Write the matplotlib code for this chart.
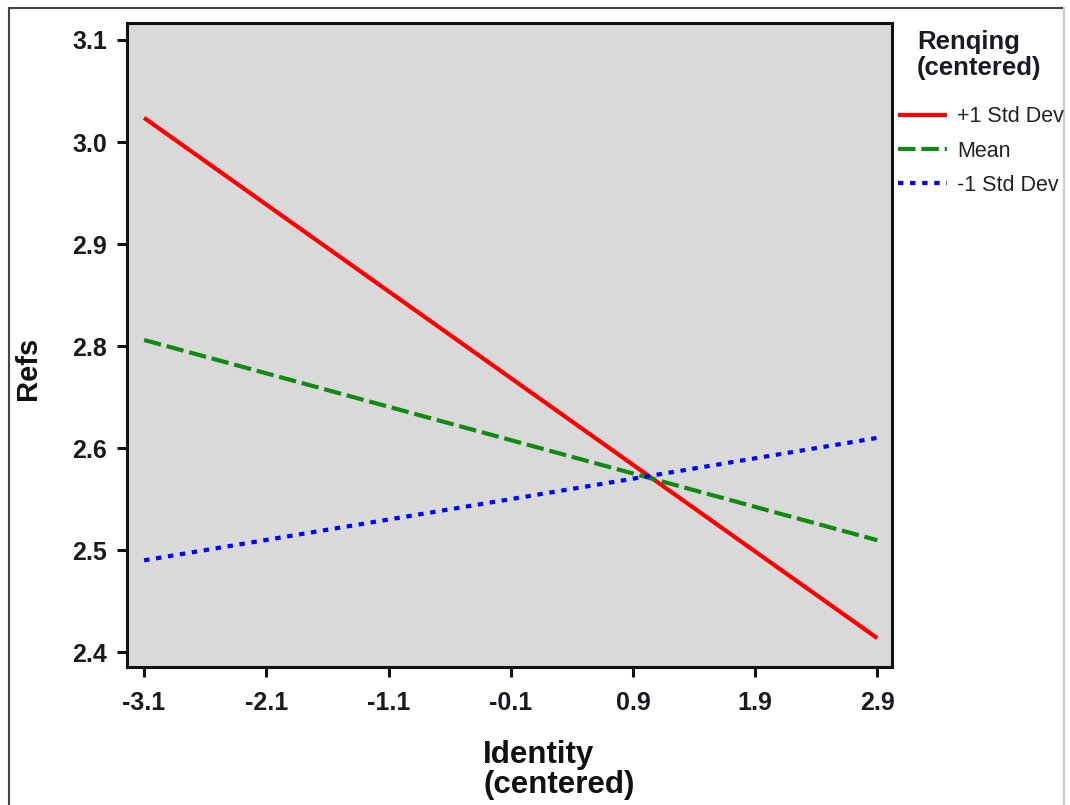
import matplotlib
matplotlib.use("Agg")
import numpy as np
import matplotlib.pyplot as plt
from matplotlib.lines import Line2D

plt.rcParams['font.family'] = ['Liberation Sans', 'DejaVu Sans']

# simple slopes: endpoints of each line at the low / high identity values
identity = [-3.1, 2.9]
plus_sd = [3.011, 2.416]
mean = [2.757, 2.528]
minus_sd = [2.505, 2.645]

series_labels = ['+1 Std Dev', 'Mean', '-1 Std Dev']
x_ticks = [-3.1, -2.1, -1.1, -0.1, 0.9, 1.9, 2.9]
# seven evenly spaced ticks from 2.4 to 3.1, labels rounded to one decimal
y_ticks = np.linspace(2.4, 3.1, 7)
y_tick_labels = ['2.4', '2.5', '2.6', '2.8', '2.9', '3.0', '3.1']

fig = plt.figure(figsize=(10.7, 8.05), dpi=100)
ax = fig.add_axes([0.1187, 0.1714, 0.7149, 0.8000])
ax.set_facecolor('#d9d9d9')

lw = 3.0
ax.plot(identity, plus_sd, color='#ff0000', lw=lw, solid_capstyle='butt', label=series_labels[0])
ax.plot(identity, mean, color='#118a11', lw=lw, dashes=(4.2, 1.4), dash_capstyle='butt', label=series_labels[1])
ax.plot(identity, minus_sd, color='#0000ff', lw=lw, dashes=(1.3, 1.6), dash_capstyle='butt', label=series_labels[2])

ax.set_xlim(-3.24, 3.02)
ax.set_ylim(2.383, 3.1194)
ax.set_xticks(x_ticks)
ax.set_xticklabels([f'{v:.1f}' for v in x_ticks])
ax.set_yticks(y_ticks)
ax.set_yticklabels(y_tick_labels)

for s in ax.spines.values():
    s.set_linewidth(2.2)
    s.set_color('#111111')
ax.tick_params(direction='out', length=7.5, width=2.2, color='#111111',
               labelsize=18, labelcolor='#1a1a22')
ax.tick_params(axis='x', pad=10)
ax.tick_params(axis='y', pad=7)
for lab in ax.get_xticklabels() + ax.get_yticklabels():
    lab.set_fontweight('bold')

# axis titles
fig.text(0.4515, 0.043, 'Identity\n(centered)', ha='left', va='center',
         fontsize=22.5, fontweight='bold', color='#111111', linespacing=1.0)
fig.text(0.026, 0.543, 'Refs', rotation=90, ha='center', va='center',
         fontsize=21, fontweight='bold', color='#111111')

# legend: title drawn separately, indented from the handles
fig.text(0.857, 0.963, 'Renqing\n(centered)', ha='left', va='top',
         fontsize=18.5, fontweight='bold', color='#1a1a22', linespacing=1.12)
handles, labels = ax.get_legend_handles_labels()
leg = fig.legend(handles, labels, loc='upper left', bbox_to_anchor=(0.839, 0.868),
                 frameon=False, fontsize=15.5, handlelength=2.3, handletextpad=0.45,
                 labelspacing=0.62, borderpad=0, borderaxespad=0)
for t in leg.get_texts():
    t.set_color('#222222')

# outer frame around the whole figure
frame_kw = dict(transform=fig.transFigure, color='#444444', lw=1.5)
fig.add_artist(Line2D([0.0085, 0.0085], [0.0, 0.990], **frame_kw))
fig.add_artist(Line2D([0.0085, 0.994], [0.990, 0.990], **frame_kw))
fig.add_artist(Line2D([0.994, 0.994], [0.0, 0.990], transform=fig.transFigure,
                      color='#cccccc', lw=1.5))

fig.savefig('out.png', dpi=100)
